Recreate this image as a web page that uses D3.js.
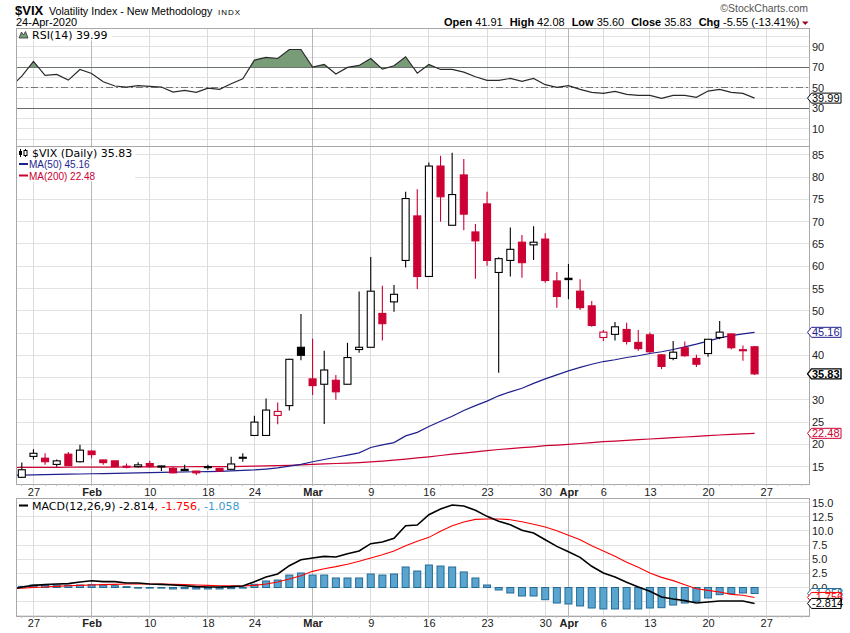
<!DOCTYPE html>
<html>
<head>
    <meta charset="utf-8">
    <title>$VIX Daily</title>
    <script src="https://cdn.jsdelivr.net/npm/d3@7/dist/d3.min.js"></script>
    <style>
        body { margin: 0; background: #fff; }
        svg { display: block; font-family: "Liberation Sans", Arial, sans-serif; }
        .legend { font-family: "DejaVu Sans", Verdana, sans-serif; font-size: 11px; }
        .grid { shape-rendering: crispEdges; }
    </style>
</head>
<body>
<svg id="chart" width="850" height="633"></svg>
<script>
    // trading days; Jan 23 only feeds the lines up to the left edge
    var dates = [
        "2020-01-23","2020-01-24","2020-01-27","2020-01-28","2020-01-29","2020-01-30","2020-01-31",
        "2020-02-03","2020-02-04","2020-02-05","2020-02-06","2020-02-07","2020-02-10","2020-02-11","2020-02-12","2020-02-13","2020-02-14",
        "2020-02-18","2020-02-19","2020-02-20","2020-02-21","2020-02-24","2020-02-25","2020-02-26","2020-02-27","2020-02-28",
        "2020-03-02","2020-03-03","2020-03-04","2020-03-05","2020-03-06","2020-03-09","2020-03-10","2020-03-11","2020-03-12","2020-03-13",
        "2020-03-16","2020-03-17","2020-03-18","2020-03-19","2020-03-20","2020-03-23","2020-03-24","2020-03-25","2020-03-26","2020-03-27",
        "2020-03-30","2020-03-31","2020-04-01","2020-04-02","2020-04-03","2020-04-06","2020-04-07","2020-04-08","2020-04-09",
        "2020-04-13","2020-04-14","2020-04-15","2020-04-16","2020-04-17","2020-04-20","2020-04-21","2020-04-22","2020-04-23","2020-04-24"
    ];
    var opens  = [12.9, 12.6, 17.3, 16.9, 15.5, 17.8, 16.1, 18.5, 16.5, 16.3, 15.1, 15.0, 15.7, 15.0, 14.6, 14.4, 14.0,
                  15.0, 14.6, 14.4, 17.0, 22.0, 22.0, 26.5, 28.7, 41.8, 34.7, 33.5, 34.4, 33.5, 41.3, 41.8, 49.4, 52.0, 61.3, 71.3,
                  57.7, 82.5, 69.2, 80.5, 67.7, 74.0, 58.6, 61.3, 65.4, 64.8, 66.1, 56.7, 57.3, 54.4, 51.1, 44.0, 44.7, 45.8, 42.9,
                  44.6, 40.1, 39.3, 41.7, 39.3, 40.4, 44.0, 44.8, 41.25, 41.91];
    var highs  = [13.4, 15.9, 18.9, 18.0, 16.6, 18.3, 19.9, 18.6, 16.6, 16.3, 15.7, 16.0, 16.3, 15.2, 14.9, 15.4, 14.1,
                  15.4, 14.7, 17.2, 18.0, 26.4, 30.3, 29.4, 39.2, 49.3, 43.7, 41.0, 35.6, 42.8, 54.3, 62.1, 55.6, 55.8, 76.7, 77.3,
                  83.3, 84.8, 85.5, 84.1, 69.5, 76.7, 62.0, 68.7, 67.0, 69.0, 67.4, 58.7, 60.5, 57.1, 52.2, 45.7, 47.5, 47.3, 45.7,
                  45.1, 40.3, 43.2, 43.1, 40.1, 43.6, 47.7, 44.9, 42.2, 42.08];
    var lows   = [12.2, 12.5, 16.6, 15.4, 15.0, 15.1, 15.9, 16.9, 15.4, 15.0, 14.6, 14.8, 14.8, 14.0, 13.5, 14.0, 13.1,
                  14.3, 13.9, 14.3, 16.1, 21.9, 22.0, 24.5, 27.6, 38.9, 31.1, 24.6, 30.0, 33.5, 40.6, 41.8, 43.3, 49.8, 59.7, 54.9,
                  57.7, 70.0, 69.2, 68.1, 57.2, 60.1, 36.1, 57.7, 57.4, 61.4, 56.3, 50.7, 52.6, 50.2, 46.4, 43.2, 43.3, 42.4, 41.0,
                  40.6, 36.9, 38.9, 39.7, 37.4, 39.7, 43.6, 41.3, 38.8, 35.60];
    var closes = [12.98, 14.3, 18.0, 16.1, 16.3, 15.2, 18.7, 17.7, 15.9, 15.0, 14.95, 15.4, 15.0, 15.15, 13.6, 14.1, 13.6,
                  14.8, 14.0, 15.6, 17.1, 25.0, 27.7, 27.4, 39.1, 40.0, 33.2, 36.7, 31.8, 39.5, 41.8, 54.4, 47.1, 53.7, 75.2, 57.7,
                  82.5, 75.6, 76.1, 71.7, 65.7, 61.3, 61.7, 63.8, 60.8, 65.4, 56.8, 53.2, 57.0, 50.7, 46.7, 45.2, 46.4, 43.1, 41.5,
                  40.8, 37.5, 40.7, 39.9, 38.0, 43.6, 45.2, 41.7, 41.2, 35.83];
    var ma50   = [13.05, 13.1, 13.15, 13.2, 13.25, 13.3, 13.35, 13.4, 13.45, 13.5, 13.55, 13.6, 13.65, 13.7, 13.75, 13.8, 13.85,
                  13.9, 13.95, 14.05, 14.15, 14.25, 14.45, 14.7, 15.1, 15.5, 16.1, 16.6, 17.1, 17.6, 18.1, 19.3, 19.9, 20.4, 21.9, 22.7,
                  24.0, 25.2, 26.3, 27.6, 28.7, 29.7, 30.9, 31.8, 32.6, 33.7, 34.7, 35.6, 36.5, 37.3, 38.0, 38.6, 39.0, 39.5, 39.9,
                  40.4, 40.8, 41.3, 41.9, 42.5, 43.2, 43.9, 44.4, 44.8, 45.16];
    var ma200  = [14.80, 14.82, 14.83, 14.84, 14.85, 14.86, 14.88, 14.89, 14.90, 14.91, 14.92, 14.93, 14.94, 14.95, 14.96, 14.97, 14.98,
                  14.99, 15.0, 15.02, 15.05, 15.1, 15.15, 15.22, 15.3, 15.4, 15.5, 15.6, 15.7, 15.8, 15.9, 16.05, 16.25, 16.45, 16.7, 16.95,
                  17.2, 17.5, 17.8, 18.05, 18.3, 18.6, 18.85, 19.05, 19.25, 19.45, 19.7, 19.85, 20.0, 20.2, 20.4, 20.6, 20.75, 20.9, 21.05,
                  21.2, 21.35, 21.5, 21.65, 21.8, 21.95, 22.1, 22.25, 22.37, 22.48];
    var rsi    = [50.4, 61.5, 75.8, 62.2, 63.1, 57.6, 68.0, 64.1, 56.0, 51.8, 50.8, 52.1, 51.4, 50.8, 45.9, 47.5, 45.6,
                  49.8, 48.5, 54.0, 58.9, 77.1, 79.7, 78.7, 87.5, 87.5, 70.3, 72.9, 63.5, 70.0, 71.9, 78.7, 68.3, 71.6, 80.4, 64.4,
                  72.9, 68.0, 68.0, 65.4, 60.9, 57.3, 57.3, 59.2, 56.3, 59.2, 53.1, 50.5, 52.1, 48.5, 45.6, 44.6, 46.6, 43.6, 42.6,
                  42.6, 39.7, 42.6, 42.6, 40.7, 46.9, 48.5, 45.6, 44.6, 39.99];
    var macd   = [-0.45, 0.09, 0.38, 0.5, 0.62, 0.68, 0.97, 1.2, 1.03, 1.03, 0.8, 0.8, 0.62, 0.56, 0.44, 0.32, 0.15,
                  0.09, 0.09, 0.15, 0.26, 1.03, 1.85, 2.38, 3.85, 4.9, 5.2, 5.5, 5.38, 5.97, 6.44, 7.74, 8.03, 8.68, 10.9, 11.03,
                  12.85, 13.85, 14.56, 14.38, 13.62, 12.56, 11.68, 11.09, 10.09, 9.62, 8.44, 7.26, 6.32, 5.32, 3.74, 2.56, 1.85, 0.91, 0.09,
                  -0.68, -1.68, -2.03, -2.32, -2.74, -2.56, -2.38, -2.38, -2.38, -2.814];
    var signal = [-0.22, -0.12, 0.03, 0.09, 0.2, 0.3, 0.38, 0.44, 0.5, 0.56, 0.62, 0.62, 0.62, 0.59, 0.56, 0.5, 0.44,
                  0.38, 0.32, 0.3, 0.26, 0.38, 0.62, 0.97, 1.5, 2.09, 2.85, 3.32, 3.68, 4.09, 4.62, 5.2, 5.79, 6.44, 7.38, 8.15,
                  8.85, 9.91, 10.91, 11.56, 12.03, 12.09, 12.09, 11.97, 11.62, 11.15, 10.68, 10.03, 9.21, 8.44, 7.38, 6.44, 5.5, 4.44, 3.56,
                  2.56, 1.79, 1.21, 0.5, -0.21, -0.5, -0.79, -1.21, -1.38, -1.756];
    var hist   = [-0.2, 0.2, 0.44, 0.44, 0.44, 0.38, 0.44, 0.5, 0.44, 0.32, 0.15, -0.09, -0.09, -0.03, -0.26, -0.21, -0.26,
                  -0.26, -0.26, -0.21, -0.03, 0.56, 1.15, 1.32, 2.2, 2.56, 2.2, 2.2, 1.68, 1.68, 1.68, 2.38, 2.2, 2.38, 3.62, 2.91,
                  3.97, 3.79, 3.62, 2.74, 1.68, 0.44, -0.44, -0.97, -1.5, -1.5, -2.15, -2.74, -2.91, -3.26, -3.62, -3.79, -3.79, -3.79, -3.79,
                  -3.62, -3.56, -3.09, -2.74, -2.44, -1.85, -1.26, -1.09, -0.97, -1.058];

    var tickDates  = ["2020-01-27","2020-02-03","2020-02-10","2020-02-18","2020-02-24","2020-03-02","2020-03-09","2020-03-16",
                      "2020-03-23","2020-03-30","2020-04-01","2020-04-06","2020-04-13","2020-04-20","2020-04-27"];
    var tickLabels = ["27","Feb","10","18","24","Mar","9","16","23","30","Apr","6","13","20","27"];
    var priceTicks = d3.range(15, 90, 5);
    var rsiGrid    = d3.range(0, 101, 10);
    var rsiTicks   = [10, 30, 50, 70, 90];
    var macdGrid   = d3.range(-5, 15.1, 2.5);
    var macdTicks  = [0, 2.5, 5, 7.5, 10, 12.5, 15];

    var RED = "#cc0033", NAVY = "#1f1f8f", GREEN = "#789c78", BLUE = "#5aa5d0", BLUE_DK = "#236b96";
    var L = 16, R = 809;
    var rsiTop = 28.5, rsiBot = 146, mainTop = 146, mainBot = 484, macdTop = 498.5, macdBot = 616;

    var axisDays = dates.concat(["2020-04-27"]);
    var tickIdx = tickDates.map(function(d) { return axisDays.indexOf(d); });
    var idx = d3.range(dates.length);
    var last = dates.length - 1;

    var x     = d3.scaleLinear().domain([0.5, 68.68]).range([L, R]);
    var yRsi  = d3.scaleLinear().domain([-6.8, 108]).range([rsiBot, rsiTop]);
    var yMain = d3.scaleLinear().domain([11.1, 87]).range([mainBot, mainTop]);
    var yMacd = d3.scaleLinear().domain([-5.03, 15.71]).range([macdBot, macdTop]);

    var svg = d3.select("#chart");
    var defs = svg.append("defs");

    function clip(id, y0, y1) {
        defs.append("clipPath").attr("id", id).append("rect")
            .attr("x", L).attr("y", y0).attr("width", R - L).attr("height", y1 - y0);
    }
    clip("clipRsi", rsiTop, rsiBot);
    clip("clipRsiHi", rsiTop, yRsi(70));
    clip("clipMain", mainTop, mainBot);
    clip("clipMacd", macdTop, macdBot);

    function isMonth(k) { return /[A-Za-z]/.test(tickLabels[k]); }

    function grid(g, y, values, top, bot) {
        g.selectAll(".hg").data(values).enter().append("line").attr("class", "grid")
            .attr("x1", L).attr("x2", R)
            .attr("y1", function(d) { return y(d); }).attr("y2", function(d) { return y(d); })
            .attr("stroke", "#e2e2e2");
        g.selectAll(".vg").data(tickIdx).enter().append("line").attr("class", "grid")
            .attr("x1", function(d) { return x(d); }).attr("x2", function(d) { return x(d); })
            .attr("y1", top).attr("y2", bot)
            .attr("stroke", function(d, k) { return isMonth(k) ? "#b8b8b8" : "#dcdcdc"; });
    }

    function border(top, bot) {
        svg.append("rect").attr("class", "grid")
            .attr("x", L).attr("y", top).attr("width", R - L).attr("height", bot - top)
            .attr("fill", "none").attr("stroke", "#a8a8a8");
    }

    // right-hand labels; the ones sitting under a value tag are left out, as on the original
    function rightAxis(y, values, fmt, tagYs) {
        var shown = values.filter(function(v) {
            return tagYs.every(function(t) { return Math.abs(y(v) - t) > 5; });
        });
        var g = svg.append("g").attr("transform", "translate(" + R + ",0)")
            .call(d3.axisRight(y).tickValues(shown).tickSize(0).tickPadding(3).tickFormat(fmt));
        g.select(".domain").remove();
        g.selectAll("text").attr("font-family", "Liberation Sans, Arial, sans-serif")
            .attr("font-size", 11).attr("fill", "#222");
    }

    function dateAxis(yPos, pad) {
        var g = svg.append("g").attr("transform", "translate(0," + yPos + ")")
            .call(d3.axisBottom(x).tickValues(tickIdx).tickSize(0).tickPadding(pad)
                .tickFormat(function(d, k) { return tickLabels[k]; }));
        g.select(".domain").remove();
        g.selectAll("text").attr("font-family", "Liberation Sans, Arial, sans-serif")
            .attr("font-size", 11).attr("fill", "#222")
            .attr("font-weight", function(d, k) { return isMonth(k) ? "bold" : "normal"; });
        // little day marks under the panel
        svg.append("g").selectAll("line").data(d3.range(1, 69)).enter().append("line").attr("class", "grid")
            .attr("x1", function(d) { return x(d); }).attr("x2", function(d) { return x(d); })
            .attr("y1", yPos).attr("y2", yPos + 2).attr("stroke", "#bbb");
    }

    function tag(y, text, color, bold) {
        var x0 = 807.5, x1 = 841, h = 5;
        svg.append("path")
            .attr("d", "M" + x0 + "," + y + "L" + (x0 + 4) + "," + (y - h) + "L" + x1 + "," + (y - h) +
                "L" + x1 + "," + (y + h) + "L" + (x0 + 4) + "," + (y + h) + "Z")
            .attr("fill", "#fff").attr("stroke", color).attr("stroke-width", bold ? 1.4 : 1);
        svg.append("text").attr("x", x0 + 4.5).attr("y", y + 4)
            .attr("font-size", 11).attr("fill", color).attr("font-weight", bold ? "bold" : "normal")
            .text(text);
    }

    var lineOf = function(y) {
        return d3.line().x(function(d, i) { return x(i); }).y(function(d) { return y(d); });
    };

    // ---------- header ----------
    svg.append("text").attr("x", 15).attr("y", 15).attr("font-size", 13).attr("font-weight", "bold").text("$VIX");
    svg.append("text").attr("x", 49).attr("y", 14.5).attr("font-size", 10.7).text("Volatility Index - New Methodology");
    svg.append("text").attr("x", 218).attr("y", 14.5).attr("font-size", 8).attr("letter-spacing", 1).text("INDX");
    svg.append("text").attr("x", 16).attr("y", 26).attr("font-size", 11).text("24-Apr-2020");
    svg.append("text").attr("x", 808).attr("y", 12).attr("text-anchor", "end").attr("font-size", 10.5)
        .attr("fill", "#555").text("\u00a9StockCharts.com");

    var quote = [["Open", "41.91"], ["High", "42.08"], ["Low", "35.60"], ["Close", "35.83"], ["Chg", "-5.55 (-13.41%)"]];
    var qt = svg.append("text").attr("x", 799.5).attr("y", 26).attr("text-anchor", "end").attr("font-size", 11);
    quote.forEach(function(q, k) {
        qt.append("tspan").attr("font-weight", "bold").attr("dx", k ? 7 : 0).text(q[0]);
        qt.append("tspan").attr("dx", 3).text(q[1]);
    });
    svg.append("path").attr("d", "M802,21.5L808.5,21.5L805.25,25Z").attr("fill", "#a0001e");

    // ---------- RSI panel ----------
    var rsiG = svg.append("g");
    grid(rsiG, yRsi, rsiGrid, rsiTop, rsiBot);
    [70, 30].forEach(function(v) {
        rsiG.append("line").attr("class", "grid").attr("x1", L).attr("x2", R)
            .attr("y1", yRsi(v)).attr("y2", yRsi(v)).attr("stroke", "#6a6a6a");
    });
    rsiG.append("line").attr("class", "grid").attr("x1", L).attr("x2", R)
        .attr("y1", yRsi(50)).attr("y2", yRsi(50)).attr("stroke", "#777").attr("stroke-dasharray", "7,3,2,3");

    rsiG.append("path").datum(rsi).attr("clip-path", "url(#clipRsiHi)")
        .attr("d", d3.area().x(function(d, i) { return x(i); }).y0(yRsi(70)).y1(function(d) { return yRsi(d); }))
        .attr("fill", GREEN);
    rsiG.append("path").datum(rsi).attr("clip-path", "url(#clipRsi)")
        .attr("d", lineOf(yRsi)).attr("fill", "none").attr("stroke", "#2a2a2a").attr("stroke-width", 1.2);
    border(rsiTop, rsiBot);
    rightAxis(yRsi, rsiTicks, d3.format("d"), [yRsi(rsi[last])]);

    var rl = svg.append("g").attr("class", "legend");
    rl.append("rect").attr("x", 18).attr("y", 29.5).attr("width", 94).attr("height", 11).attr("fill", "#fff");
    rl.append("path").attr("d", "M19,38L21.5,32L23.5,35L25.5,31.5L28,38Z")
        .attr("fill", GREEN).attr("stroke", "#333").attr("stroke-width", 0.8);
    rl.append("text").attr("x", 32).attr("y", 38.5).text("RSI(14) " + rsi[last].toFixed(2));

    // ---------- price panel ----------
    var mainG = svg.append("g");
    grid(mainG, yMain, priceTicks, mainTop, mainBot);

    var mas = mainG.append("g").attr("clip-path", "url(#clipMain)");
    mas.append("path").datum(ma200).attr("d", lineOf(yMain)).attr("fill", "none").attr("stroke", RED).attr("stroke-width", 1.2);
    mas.append("path").datum(ma50).attr("d", lineOf(yMain)).attr("fill", "none").attr("stroke", NAVY).attr("stroke-width", 1.2);

    function candleColor(i) { return i > 0 && closes[i] < closes[i - 1] ? RED : "#000"; }
    var cg = mainG.append("g").attr("clip-path", "url(#clipMain)");
    cg.selectAll(".wick").data(idx).enter().append("line")
        .attr("x1", function(i) { return x(i); }).attr("x2", function(i) { return x(i); })
        .attr("y1", function(i) { return yMain(highs[i]); }).attr("y2", function(i) { return yMain(lows[i]); })
        .attr("stroke", candleColor).attr("stroke-width", 1.1);
    cg.selectAll(".body").data(idx).enter().append("rect")
        .attr("x", function(i) { return x(i) - 3.5; }).attr("width", 7)
        .attr("y", function(i) { return yMain(Math.max(opens[i], closes[i])); })
        .attr("height", function(i) { return Math.max(1, Math.abs(yMain(opens[i]) - yMain(closes[i]))); })
        .attr("fill", function(i) { return closes[i] > opens[i] ? "#fff" : candleColor(i); })
        .attr("stroke", candleColor).attr("stroke-width", 1.1);

    border(mainTop, mainBot);
    rightAxis(yMain, priceTicks, d3.format("d"), [yMain(ma50[last]), yMain(ma200[last]), yMain(closes[last])]);
    dateAxis(mainBot, 4);

    var ml = svg.append("g").attr("class", "legend");
    ml.append("rect").attr("x", 18).attr("y", 147.5).attr("width", 117).attr("height", 34).attr("fill", "#fff");
    ml.append("line").attr("x1", 20.5).attr("x2", 20.5).attr("y1", 149).attr("y2", 157).attr("stroke", "#000");
    ml.append("rect").attr("x", 19).attr("y", 151).attr("width", 3).attr("height", 4).attr("fill", "#000");
    ml.append("line").attr("x1", 25.5).attr("x2", 25.5).attr("y1", 149).attr("y2", 157).attr("stroke", "#000");
    ml.append("rect").attr("x", 24).attr("y", 150.5).attr("width", 3).attr("height", 5).attr("fill", "#fff").attr("stroke", "#000");
    ml.append("text").attr("x", 32).attr("y", 157).text("$VIX (Daily) " + closes[last].toFixed(2));
    [[ma50, NAVY, "MA(50) ", 168], [ma200, RED, "MA(200) ", 179.5]].forEach(function(m) {
        ml.append("line").attr("x1", 19).attr("x2", 28).attr("y1", m[3] - 4).attr("y2", m[3] - 4)
            .attr("stroke", m[1]).attr("stroke-width", 2);
        ml.append("text").attr("x", 29).attr("y", m[3]).attr("font-family", "Liberation Sans, Arial, sans-serif")
            .attr("font-size", 10).attr("fill", m[1]).text(m[2] + m[0][last].toFixed(2));
    });

    // ---------- MACD panel ----------
    var macdG = svg.append("g");
    grid(macdG, yMacd, macdGrid, macdTop, macdBot);
    var hg = macdG.append("g").attr("clip-path", "url(#clipMacd)");
    hg.selectAll("rect").data(idx).enter().append("rect")
        .attr("x", function(i) { return x(i) - 3.5; }).attr("width", 7)
        .attr("y", function(i) { return Math.min(yMacd(hist[i]), yMacd(0)); })
        .attr("height", function(i) { return Math.max(0.6, Math.abs(yMacd(hist[i]) - yMacd(0))); })
        .attr("fill", BLUE).attr("stroke", BLUE_DK).attr("stroke-width", 1);
    hg.append("path").datum(signal).attr("d", lineOf(yMacd)).attr("fill", "none").attr("stroke", "#ff0000").attr("stroke-width", 1.1);
    hg.append("path").datum(macd).attr("d", lineOf(yMacd)).attr("fill", "none").attr("stroke", "#000").attr("stroke-width", 1.6);
    border(macdTop, macdBot);
    rightAxis(yMacd, macdTicks, d3.format(".1f"), [yMacd(signal[last]), yMacd(macd[last])]);
    dateAxis(macdBot, 3);

    var dl = svg.append("g").attr("class", "legend");
    dl.append("rect").attr("x", 18).attr("y", 500).attr("width", 231).attr("height", 11).attr("fill", "#fff");
    dl.append("line").attr("x1", 19).attr("x2", 28).attr("y1", 505.5).attr("y2", 505.5).attr("stroke", "#000").attr("stroke-width", 2);
    var dt = dl.append("text").attr("x", 32).attr("y", 509.5);
    dt.append("tspan").text("MACD(12,26,9) " + macd[last].toFixed(3));
    dt.append("tspan").attr("fill", "#ff0000").text(", " + signal[last].toFixed(3));
    dt.append("tspan").attr("fill", "#3a9ad0").text(", " + hist[last].toFixed(3));

    // ---------- last value tags ----------
    tag(yRsi(rsi[last]), rsi[last].toFixed(2), "#000", false);
    tag(yMain(ma50[last]), ma50[last].toFixed(2), NAVY, false);
    tag(yMain(ma200[last]), ma200[last].toFixed(2), RED, false);
    tag(yMain(closes[last]), closes[last].toFixed(2), "#000", true);
    tag(yMacd(hist[last]), hist[last].toFixed(3), BLUE_DK, false);
    tag(yMacd(signal[last]), signal[last].toFixed(3), "#ff0000", false);
    tag(yMacd(macd[last]), macd[last].toFixed(3), "#000", false);
</script>
</body>
</html>
